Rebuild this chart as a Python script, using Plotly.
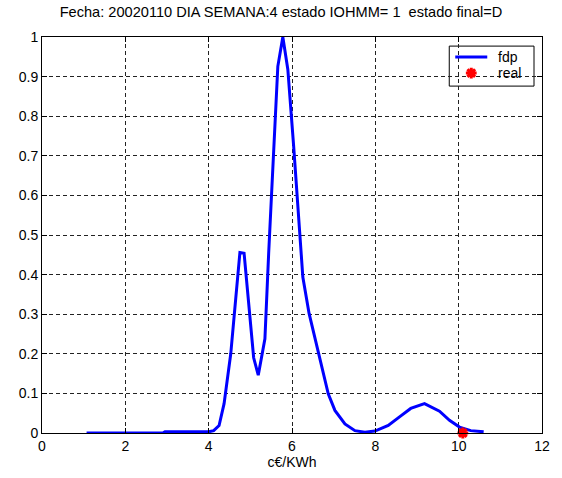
import plotly.graph_objects as go

# Estimated probability density (fdp) over price in c€/KWh
fdp_x = [1.07, 2.9, 2.95, 4.0, 4.12, 4.25, 4.37, 4.53, 4.65, 4.75, 4.85, 4.95,
         5.08, 5.19, 5.35, 5.44, 5.56, 5.66, 5.78, 5.90, 6.04, 6.16, 6.26, 6.41,
         6.55, 6.71, 6.87, 7.03, 7.27, 7.51, 7.75, 7.99, 8.31, 8.62, 8.85, 9.18,
         9.54, 9.78, 10.02, 10.29, 10.6]
fdp_y = [0.0, 0.0, 0.003, 0.003, 0.006, 0.019, 0.074, 0.20, 0.34, 0.456, 0.454, 0.33,
         0.19, 0.146, 0.238, 0.454, 0.707, 0.926, 1.0, 0.918, 0.724, 0.538, 0.394, 0.302,
         0.24, 0.175, 0.099, 0.057, 0.023, 0.006, 0.002, 0.005, 0.019, 0.044, 0.062, 0.074,
         0.055, 0.032, 0.015, 0.006, 0.003]

# Observed (real) value
real_x = [10.1]
real_y = [0.0]

x_ticks = [0, 2, 4, 6, 8, 10, 12]
y_ticks = [0, 0.1, 0.2, 0.3, 0.4, 0.5, 0.6, 0.7, 0.8, 0.9, 1.0]
y_labels = ["0", "0.1", "0.2", "0.3", "0.4", "0.5", "0.6", "0.7", "0.8", "0.9", "1"]

title_text = "Fecha: 20020110 DIA SEMANA:4 estado IOHMM= 1  estado final=D"
x_label = "c€/KWh"
legend_names = ["fdp", "real"]

font_family = "Liberation Sans, Arial, sans-serif"
blue = "#0000ff"
red = "#ff0000"
star = dict(symbol="asterisk-open", size=9, color=red, line=dict(color=red, width=3))

fig = go.Figure()
fig.add_trace(go.Scatter(
    x=fdp_x, y=fdp_y, mode="lines", name=legend_names[0],
    line=dict(color=blue, width=3),
))
fig.add_trace(go.Scatter(
    x=real_x, y=real_y, mode="markers", name=legend_names[1],
    marker=star, cliponaxis=False,
))

axis_common = dict(
    showline=True, linecolor="black", linewidth=1, mirror="ticks",
    ticks="inside", ticklen=5, tickcolor="black",
    showgrid=True, gridcolor="#222222", gridwidth=1, griddash="4px,3px",
    zeroline=False,
    tickfont=dict(family=font_family, size=14, color="black"),
)

fig.update_xaxes(range=[0, 12], tickvals=x_ticks,
                 title=dict(text=x_label, font=dict(family=font_family, size=14, color="black"),
                            standoff=2),
                 **axis_common)
fig.update_yaxes(range=[0, 1], tickvals=y_ticks, ticktext=y_labels, **axis_common)

# Boxed legend in the upper-right corner of the axes (paper coordinates)
lg_x0, lg_x1, lg_y0, lg_y1 = 0.8145, 0.984, 0.876, 0.977
row_y = [0.9495, 0.909]
sample_x0, sample_x1, text_x = 0.8265, 0.8905, 0.9075

fig.add_shape(type="rect", xref="paper", yref="paper",
              x0=lg_x0, x1=lg_x1, y0=lg_y0, y1=lg_y1,
              line=dict(color="black", width=1), fillcolor="white", layer="between")
fig.add_shape(type="line", xref="paper", yref="paper",
              x0=sample_x0, x1=sample_x1, y0=row_y[0], y1=row_y[0],
              line=dict(color=blue, width=3), layer="above")
# legend star drawn on an overlay axis spanning the plot area
fig.add_trace(go.Scatter(
    x=[(sample_x0 + sample_x1) / 2], y=[row_y[1]], mode="markers",
    marker=star, xaxis="x2", yaxis="y2", hoverinfo="skip", cliponaxis=False,
))
for name, yy in zip(legend_names, row_y):
    fig.add_annotation(text=name, xref="paper", yref="paper", x=text_x, y=yy,
                       xanchor="left", yanchor="middle", showarrow=False,
                       font=dict(family=font_family, size=14, color="black"))

fig.update_layout(
    width=562, height=478,
    margin=dict(l=42, r=17, t=37, b=45),
    paper_bgcolor="white", plot_bgcolor="white",
    title=dict(text=title_text, x=0.5, xanchor="center", y=0.975, yanchor="middle",
               font=dict(family=font_family, size=14.6, color="black")),
    xaxis2=dict(overlaying="x", range=[0, 1], visible=False),
    yaxis2=dict(overlaying="y", range=[0, 1], visible=False),
    showlegend=False,
)

fig.write_html("out.html")
